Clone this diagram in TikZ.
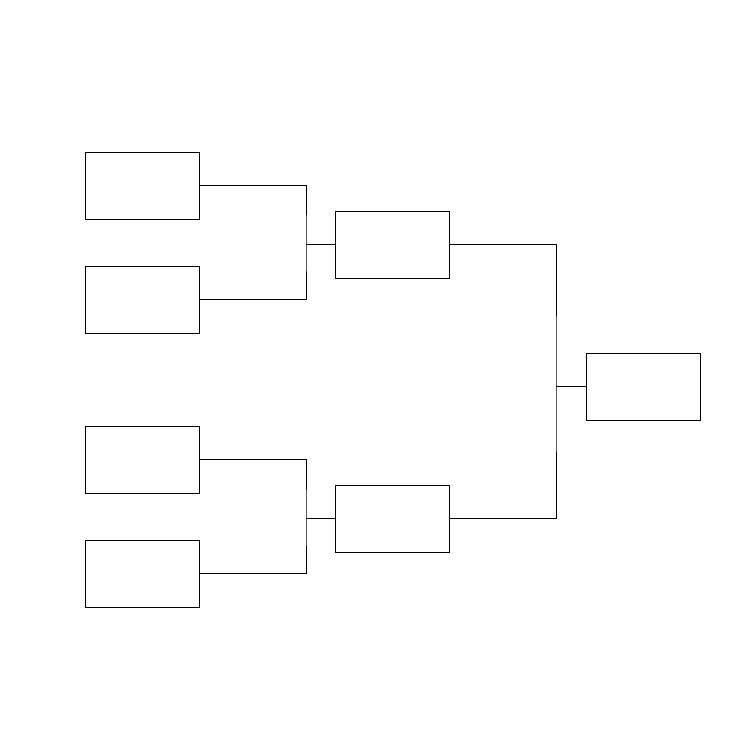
\documentclass[tikz,border=0pt]{standalone}
\begin{document}
\begin{tikzpicture}[x=1pt,y=-1pt,
  slot/.style={draw,rectangle,minimum width=114pt,minimum height=67pt,inner sep=0pt,line width=0.8pt},
  wire/.style={line width=0.8pt}]
\useasboundingbox (0,0) rectangle (740,740);
\node[slot] (A) at (142,185.5) {};
\node[slot] (B) at (142,299.5) {};
\node[slot] (C) at (142,459.5) {};
\node[slot] (D) at (142,573.5) {};
\node[slot] (E) at (392,244.5) {};
\node[slot] (F) at (392,518.5) {};
\node[slot] (G) at (643,386.5) {};
\coordinate (j1) at (306,244.5);
\coordinate (j2) at (306,518.5);
\coordinate (j3) at (556,386.5);
\draw[wire] (A.east) -| (j1) |- (B.east);
\draw[wire] (j1) -- (E.west);
\draw[wire] (C.east) -| (j2) |- (D.east);
\draw[wire] (j2) -- (F.west);
\draw[wire] (E.east) -| (j3) |- (F.east);
\draw[wire] (j3) -- (G.west);
\end{tikzpicture}
\end{document}
